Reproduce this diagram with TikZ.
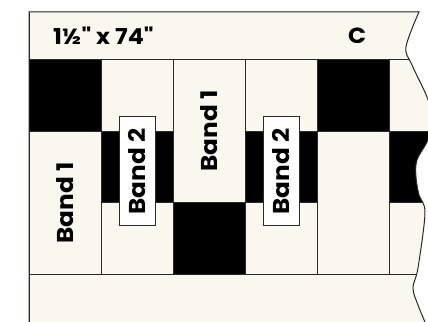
\documentclass[tikz,border=0pt]{standalone}
\usepackage{fontspec}
\setmainfont{Poppins}[Ligatures=TeXOff, FakeStretch=1.08]
\definecolor{quiltcream}{HTML}{F9F7EE}
\definecolor{seamgray}{HTML}{2A2A2A}

\begin{document}
\begin{tikzpicture}[x=1in, y=1in,
	cream/.style={fill=quiltcream, draw=seamgray, line width=0.9pt},
	dark/.style={fill=black},
	seam/.style={draw=seamgray, line width=1pt},
	bandtag/.style={font=\fontsize{23}{26}\selectfont\bfseries, rotate=90},
	tagbox/.style={bandtag, fill=white, draw=seamgray, line width=0.9pt,
		minimum width=1.514in, minimum height=0.5in, inner sep=0pt},
	title/.style={font=\fontsize{22}{25}\selectfont\bfseries, inner sep=0pt},
	tear/.style={insert path={-- plot[smooth, tension=0.55] coordinates {
		(5.417,3.653) (5.236,3.167) (5.319,2.917) (5.528,2.472) (5.611,2.153)
		(5.542,1.875) (5.389,1.597) (5.375,1.361) (5.417,1.111) (5.5,0.861)
		(5.403,0.097) (5.333,-0.181) (5.403,-0.417) (5.5,-0.653)}}}
]
\useasboundingbox (-0.403,-0.653) rectangle (5.542,3.819);
\clip (-0.403,-0.653) rectangle (5.542,3.819);

\begin{scope}
	\clip (0,-0.653) -- (0,3.653) [tear] -- cycle;
	\fill[quiltcream] (0,-0.653) rectangle (5.8,3.653);
	% black squares
	\foreach \x/\y in {0/2, 1/1, 2/0, 3/1, 4/2, 5/1}
		\fill[dark] (\x,\y) rectangle ++(1,1);
	% cream blocks
	\foreach \x/\y/\h in {0/0/2, 1/2/1, 1/0/1, 2/1/2, 3/2/1, 3/0/1, 4/0/2, 5/2/1, 5/0/1}
		\draw[cream] (\x,\y) rectangle ++(1,\h);
	% strips
	\draw[cream] (0,3) rectangle (5.8,3.653);
	\draw[cream] (0,-1) rectangle (5.8,0);
\end{scope}

\draw[seam] (0,-0.653) -- (0,3.653) [tear];

\node[title, anchor=west] (size) at (0.333,3.326) {1½" x 74"};
\node[title] (fabric) at (4.556,3.326) {C};

\node[bandtag] (bandA) at (0.5,1) {Band 1};
\node[bandtag] (bandB) at (2.5,2) {Band 1};
\node[tagbox] (tagA) at (1.5,1.438) {Band 2};
\node[tagbox] (tagB) at (3.5,1.438) {Band 2};
\end{tikzpicture}
\end{document}
